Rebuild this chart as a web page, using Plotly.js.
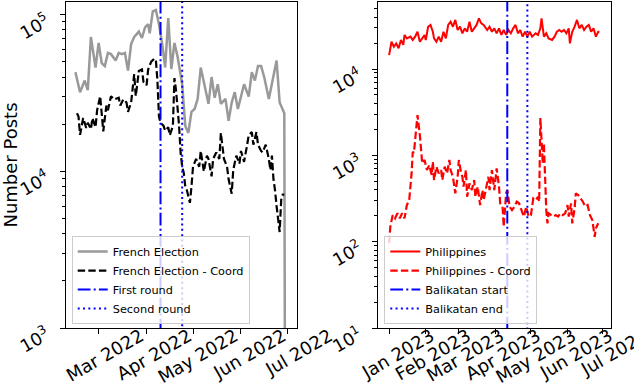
<!DOCTYPE html>
<html>
<head>
<meta charset="utf-8">
<script src="https://cdn.plot.ly/plotly-3.0.1.min.js"></script>
<style>
html,body{margin:0;padding:0;background:#fff;}
#chart{width:634px;height:390px;}
</style>
</head>
<body>
<div id="chart"></div>
<script>
// ---------- Left panel: French Election (2022) ----------
const frDates = ['2022-02-14','2022-02-17','2022-02-20','2022-02-22','2022-02-24','2022-02-27','2022-03-01','2022-03-03','2022-03-05','2022-03-07','2022-03-09','2022-03-12','2022-03-14','2022-03-16','2022-03-18','2022-03-20','2022-03-22','2022-03-24','2022-03-27','2022-03-29','2022-03-31','2022-04-02','2022-04-03','2022-04-05','2022-04-07','2022-04-09','2022-04-11','2022-04-13','2022-04-15','2022-04-17','2022-04-19','2022-04-21','2022-04-24','2022-04-26','2022-04-28','2022-04-30','2022-05-02','2022-05-04','2022-05-06','2022-05-09','2022-05-11','2022-05-13','2022-05-15','2022-05-17','2022-05-19','2022-05-22','2022-05-24','2022-05-26','2022-05-28','2022-05-30','2022-06-01','2022-06-03','2022-06-06','2022-06-08','2022-06-10','2022-06-12','2022-06-14','2022-06-16','2022-06-19','2022-06-21','2022-06-23','2022-06-24','2022-06-26','2022-06-28','2022-06-29','2022-06-30'];
const frTotal = [43000,32000,38000,33000,72000,46000,66000,49000,47000,57000,56000,51000,57000,56000,57000,44000,65000,72000,78000,71000,83000,87000,76000,105000,107000,87000,66000,46000,95000,45000,66000,54000,36000,19500,17600,24000,25000,29000,46000,33000,27000,40000,29500,36000,27000,29000,21000,27500,32000,25000,30000,36000,30000,43000,38000,47000,47000,40000,29000,36000,47000,51000,27500,25000,23500,2];

const frCoordDates = ['2022-02-15','2022-02-16','2022-02-17','2022-02-19','2022-02-21','2022-02-22','2022-02-24','2022-02-25','2022-02-27','2022-02-28','2022-03-02','2022-03-03','2022-03-04','2022-03-06','2022-03-07','2022-03-09','2022-03-11','2022-03-14','2022-03-15','2022-03-17','2022-03-19','2022-03-20','2022-03-22','2022-03-23','2022-03-24','2022-03-25','2022-03-27','2022-03-29','2022-03-30','2022-04-01','2022-04-02','2022-04-04','2022-04-06','2022-04-07','2022-04-08','2022-04-09','2022-04-10','2022-04-12','2022-04-13','2022-04-15','2022-04-16','2022-04-18','2022-04-19','2022-04-20','2022-04-22','2022-04-23','2022-04-24','2022-04-25','2022-04-26','2022-04-27','2022-04-29','2022-04-30','2022-05-01','2022-05-03','2022-05-05','2022-05-06','2022-05-08','2022-05-10','2022-05-11','2022-05-13','2022-05-14','2022-05-16','2022-05-18','2022-05-19','2022-05-21','2022-05-23','2022-05-24','2022-05-26','2022-05-27','2022-05-29','2022-05-31','2022-06-01','2022-06-03','2022-06-05','2022-06-06','2022-06-08','2022-06-09','2022-06-11','2022-06-12','2022-06-14','2022-06-15','2022-06-17','2022-06-19','2022-06-20','2022-06-21','2022-06-22','2022-06-23','2022-06-24','2022-06-25','2022-06-26','2022-06-27','2022-06-28','2022-06-29'];
const frCoord = [23500,22400,17100,21900,18900,20400,18600,21900,19100,24500,30200,24500,18000,26300,24500,30200,28800,29500,26300,28800,27500,24000,27500,33900,41700,30200,43700,44700,37200,35500,44700,50100,52500,51300,38000,22400,20400,19500,18200,19100,17000,19500,39400,33100,19500,13100,10700,9800,8000,7600,6300,8000,10700,12000,10700,13500,10000,12600,12000,9300,12000,13200,12000,17600,12000,10700,8900,7200,10200,12600,11200,13500,11500,14800,17000,17800,14800,17800,14800,13500,13200,14800,12000,10200,12600,8900,7600,6000,4700,4100,6600,7100,7100];

const frEventDates = ['2022-04-10','2022-04-24'];
const frEventNames = ['First round','Second round'];
const frTickVals = ['2022-03-01','2022-04-01','2022-05-01','2022-06-01','2022-07-01'];
const frTickText = ['Mar 2022','Apr 2022','May 2022','Jun 2022','Jul 2022'];

// ---------- Right panel: Philippines (2023) ----------
const phDates = ['2023-01-01','2023-01-03','2023-01-05','2023-01-07','2023-01-09','2023-01-11','2023-01-13','2023-01-14','2023-01-16','2023-01-19','2023-01-21','2023-01-23','2023-01-25','2023-01-27','2023-01-29','2023-01-31','2023-02-01','2023-02-03','2023-02-05','2023-02-07','2023-02-08','2023-02-10','2023-02-12','2023-02-14','2023-02-16','2023-02-18','2023-02-20','2023-02-22','2023-02-24','2023-02-26','2023-02-28','2023-03-02','2023-03-04','2023-03-06','2023-03-08','2023-03-10','2023-03-12','2023-03-14','2023-03-16','2023-03-18','2023-03-20','2023-03-22','2023-03-25','2023-03-27','2023-03-29','2023-03-31','2023-04-02','2023-04-04','2023-04-06','2023-04-08','2023-04-10','2023-04-12','2023-04-14','2023-04-16','2023-04-18','2023-04-20','2023-04-22','2023-04-24','2023-04-26','2023-04-28','2023-04-30','2023-05-02','2023-05-05','2023-05-07','2023-05-09','2023-05-10','2023-05-12','2023-05-14','2023-05-16','2023-05-19','2023-05-21','2023-05-23','2023-05-25','2023-05-27','2023-05-29','2023-05-31','2023-06-02','2023-06-03','2023-06-05','2023-06-07','2023-06-09','2023-06-11','2023-06-13','2023-06-15','2023-06-17','2023-06-19','2023-06-21','2023-06-23','2023-06-25','2023-06-27','2023-06-28'];
const phTotal = [14500,20700,18100,19800,17400,21700,19000,24800,22600,23700,21700,23700,27000,20700,22600,24800,21700,30900,32400,27000,22600,20700,23700,20700,27000,22600,32400,35300,30900,37000,28300,30900,25900,29600,27000,35300,27000,29600,32400,38600,33800,32400,28300,30900,27000,29600,25900,29600,24800,28300,24800,28300,25900,29600,32400,25900,28300,23700,27000,23700,27000,23700,25900,24800,29600,38600,23700,25900,22600,21700,23700,27000,28300,27000,28300,25900,29600,19800,27000,30900,37000,29600,32400,28300,30900,32400,27000,29600,23700,27000,27000];

const phCoordDates = ['2023-01-01','2023-01-02','2023-01-04','2023-01-06','2023-01-08','2023-01-10','2023-01-12','2023-01-14','2023-01-16','2023-01-18','2023-01-20','2023-01-21','2023-01-22','2023-01-24','2023-01-25','2023-01-27','2023-01-28','2023-01-29','2023-01-31','2023-02-02','2023-02-04','2023-02-06','2023-02-07','2023-02-08','2023-02-10','2023-02-12','2023-02-14','2023-02-15','2023-02-17','2023-02-19','2023-02-21','2023-02-22','2023-02-24','2023-02-26','2023-02-28','2023-03-01','2023-03-03','2023-03-04','2023-03-05','2023-03-07','2023-03-08','2023-03-10','2023-03-12','2023-03-14','2023-03-15','2023-03-17','2023-03-19','2023-03-21','2023-03-22','2023-03-24','2023-03-26','2023-03-27','2023-03-29','2023-03-31','2023-04-02','2023-04-04','2023-04-05','2023-04-07','2023-04-08','2023-04-10','2023-04-11','2023-04-13','2023-04-15','2023-04-17','2023-04-19','2023-04-21','2023-04-23','2023-04-25','2023-04-27','2023-04-29','2023-05-01','2023-05-03','2023-05-05','2023-05-07','2023-05-08','2023-05-09','2023-05-10','2023-05-11','2023-05-12','2023-05-13','2023-05-14','2023-05-15','2023-05-16','2023-05-20','2023-05-22','2023-05-24','2023-05-26','2023-05-28','2023-05-30','2023-06-01','2023-06-02','2023-06-04','2023-06-05','2023-06-07','2023-06-08','2023-06-10','2023-06-12','2023-06-14','2023-06-16','2023-06-18','2023-06-20','2023-06-22','2023-06-24','2023-06-25','2023-06-27'];
const phCoord = [96,149,203,186,213,186,213,186,265,303,617,1100,1070,1950,2930,1720,1200,807,883,676,773,592,843,518,738,617,676,518,738,617,883,676,565,363,565,883,617,565,433,676,331,473,396,518,331,433,265,396,303,433,565,396,676,396,708,433,278,254,149,363,396,254,232,254,290,278,232,195,254,195,203,316,302,331,290,2700,1500,807,1380,473,232,163,213,195,203,195,213,203,213,265,195,278,163,243,363,347,316,290,254,265,203,178,114,143,163];

const phEventDates = ['2023-04-11','2023-04-28'];
const phEventNames = ['Balikatan start','Balikatan end'];
const phTickVals = ['2023-01-01','2023-02-01','2023-03-01','2023-04-01','2023-05-01','2023-06-01','2023-07-01'];
const phTickText = ['Jan 2023','Feb 2023','Mar 2023','Apr 2023','May 2023','Jun 2023','Jul 2023'];

// ---------- Styling ----------
const FONT = 'DejaVu Sans, Verdana, sans-serif';
const DASH = '7.4px,3.2px';
const DASHDOT = '12.8px,3.2px,2px,3.2px';
const DOT = '2px,3.3px';
const BLUE = '#0000ff';

function minorVals(lo, hi) {
  const out = [];
  for (let e = lo; e < hi; e++) for (let k = 2; k <= 9; k++) out.push(k * Math.pow(10, e));
  return out;
}

const traces = [
  {x: frDates, y: frTotal, name: 'French Election', mode: 'lines', xaxis: 'x', yaxis: 'y',
   line: {color: '#999999', width: 2.5}, legend: 'legend'},
  {x: frCoordDates, y: frCoord, name: 'French Election - Coord', mode: 'lines', xaxis: 'x', yaxis: 'y',
   line: {color: '#000000', width: 2.2, dash: DASH}, legend: 'legend'},
  {x: [frEventDates[0], frEventDates[0]], y: [1, 1e7], name: frEventNames[0], mode: 'lines', xaxis: 'x', yaxis: 'y',
   line: {color: BLUE, width: 2, dash: DASHDOT}, legend: 'legend'},
  {x: [frEventDates[1], frEventDates[1]], y: [1, 1e7], name: frEventNames[1], mode: 'lines', xaxis: 'x', yaxis: 'y',
   line: {color: BLUE, width: 2, dash: DOT}, legend: 'legend'},

  {x: phDates, y: phTotal, name: 'Philippines', mode: 'lines', xaxis: 'x2', yaxis: 'y2',
   line: {color: '#ff0000', width: 2}, legend: 'legend2'},
  {x: phCoordDates, y: phCoord, name: 'Philippines - Coord', mode: 'lines', xaxis: 'x2', yaxis: 'y2',
   line: {color: '#ff0000', width: 2.2, dash: DASH}, legend: 'legend2'},
  {x: [phEventDates[0], phEventDates[0]], y: [1, 1e7], name: phEventNames[0], mode: 'lines', xaxis: 'x2', yaxis: 'y2',
   line: {color: BLUE, width: 2, dash: DASHDOT}, legend: 'legend2'},
  {x: [phEventDates[1], phEventDates[1]], y: [1, 1e7], name: phEventNames[1], mode: 'lines', xaxis: 'x2', yaxis: 'y2',
   line: {color: BLUE, width: 2, dash: DOT}, legend: 'legend2'}
];

const xCommon = {
  type: 'date', showgrid: false, zeroline: false, showline: true, mirror: true,
  linecolor: '#000', linewidth: 1, ticks: 'outside', ticklen: 5, tickwidth: 1, tickcolor: '#000',
  tickmode: 'array', tickangle: -30, tickfont: {family: FONT, size: 18, color: '#000'},
  ticklabeloverflow: 'allow', ticklabelshift: 42, ticklabelstandoff: -15
};
const yCommon = {
  type: 'log', showgrid: false, zeroline: false, showline: true, mirror: true,
  linecolor: '#000', linewidth: 1, ticks: 'outside', ticklen: 5, tickwidth: 1, tickcolor: '#000',
  tickmode: 'array', tickangle: -30, tickfont: {family: FONT, size: 17.5, color: '#000'},
  ticklabeloverflow: 'allow', ticklabelshift: 5, ticklabelstandoff: 10
};
const legendCommon = {
  font: {family: FONT, size: 11.3, color: '#000'}, bgcolor: 'rgba(255,255,255,0.8)',
  bordercolor: '#cccccc', borderwidth: 1, xanchor: 'left', yanchor: 'bottom'
};

const layout = {
  width: 634, height: 390,
  margin: {l: 66, r: 23.3, t: 2, b: 62},
  paper_bgcolor: '#fff', plot_bgcolor: '#fff',
  font: {family: FONT, color: '#000'},
  showlegend: true,
  xaxis: Object.assign({}, xCommon, {domain: [0, 0.4241], anchor: 'y',
    range: ['2022-02-07 22:00', '2022-07-07 07:00'], tickvals: frTickVals, ticktext: frTickText}),
  yaxis: Object.assign({}, yCommon, {anchor: 'x', range: [3, 5.081],
    tickvals: [1e3, 1e4, 1e5], ticktext: ['10<sup>3</sup>', '10<sup>4</sup>', '10<sup>5</sup>'],
    minor: {tickmode: 'array', tickvals: minorVals(3, 5), ticks: 'outside', ticklen: 3, tickcolor: '#000', tickwidth: 1, showgrid: false},
    title: {text: 'Number Posts', font: {family: FONT, size: 18, color: '#000'}, standoff: 0}}),
  xaxis2: Object.assign({}, xCommon, {domain: [0.5733, 1], anchor: 'y2',
    range: ['2022-12-22 23:00', '2023-07-07 19:00'], tickvals: phTickVals, ticktext: phTickText}),
  yaxis2: Object.assign({}, yCommon, {anchor: 'x2', range: [1, 4.776],
    tickvals: [1e1, 1e2, 1e3, 1e4], ticktext: ['10<sup>1</sup>', '10<sup>2</sup>', '10<sup>3</sup>', '10<sup>4</sup>'],
    minor: {tickmode: 'array', tickvals: minorVals(1, 5), ticks: 'outside', ticklen: 3, tickcolor: '#000', tickwidth: 1, showgrid: false}}),
  legend: Object.assign({}, legendCommon, {x: 0.0105, y: 0.012}),
  legend2: Object.assign({}, legendCommon, {x: 0.584, y: 0.012})
};

Plotly.newPlot('chart', traces, layout, {staticPlot: true, displayModeBar: false});
</script>
</body>
</html>
